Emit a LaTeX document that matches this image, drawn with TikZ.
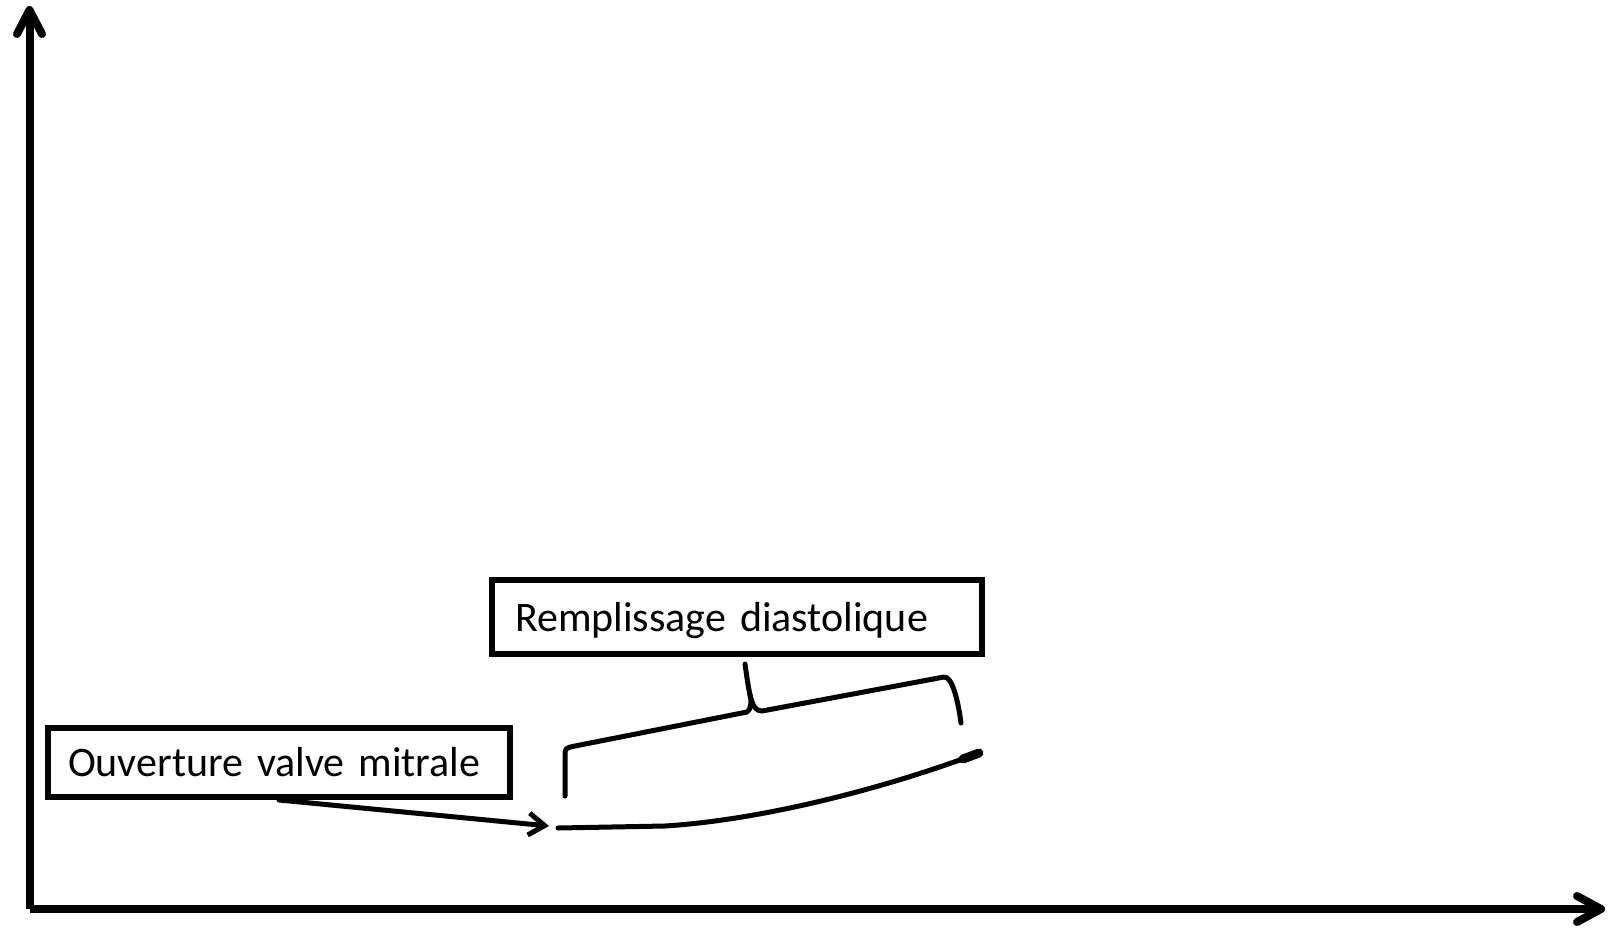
\documentclass[tikz,border=0pt]{standalone}
\usepackage{fontspec}
\setmainfont{Carlito}
\usetikzlibrary{arrows.meta,calc}
\begin{document}
\begin{tikzpicture}[x=1pt,y=-1pt,
  axis/.style={line width=8pt},
  axishead/.style={line width=8pt, line cap=round, line join=round},
  labelbox/.style={draw, line width=6pt, font=\fontsize{42}{50}\selectfont,
    text height=28pt, text depth=0pt, align=left, inner ysep=0pt},
  pen/.style={line width=5pt, line cap=round, line join=round},
]
\useasboundingbox (0,0) rectangle (1608,929);

% axes
\coordinate (O) at (29.5,909);
\coordinate (ytip) at (29.5,10);
\coordinate (xtip) at (1601,909);
\draw[axis] (O) -- (ytip);
\draw[axis] (O) -- (xtip);
\draw[axishead] ($(ytip)+(-12.5,24)$) -- (ytip) -- ($(ytip)+(12.5,24)$);
\draw[axishead] ($(xtip)+(-24,-13)$) -- (xtip) -- ($(xtip)+(-24,13)$);

% labels
\node[labelbox, minimum width=462pt, minimum height=69pt,
      text width=422pt, inner xsep=20pt] (ovm) at (279,762.5) {Ouverture valve mitrale};
\node[labelbox, minimum width=490pt, minimum height=74pt,
      text width=444pt, inner xsep=23pt] (rd) at (737,617) {Remplissage diastolique};

% pointer to the valve opening
\coordinate (mv) at (549,826);
\draw[pen, -{Straight Barb[length=16pt,width=22pt]}] (ovm.south) -- (mv);

% filling curve
\coordinate (c0) at (558,828);
\coordinate (c1) at (979,753);
\draw[pen] (c0) -- (665,826) .. controls (760,820) and (880,790) .. (c1);
\draw[line width=9pt, line cap=round] (963,759) -- (c1);

% brace over the filling phase
\draw[pen] (565,796) -- (565,757) .. controls (565,748) .. (575,746)
  -- (747,712) .. controls (751,710) and (752,700) .. (750,695)
  .. controls (748,685) .. (745,664);
\draw[pen] (750,695) .. controls (753,707) and (756,711) .. (762,711)
  -- (944,677) .. controls (952,676) and (958,700) .. (961,723);
\end{tikzpicture}
\end{document}
